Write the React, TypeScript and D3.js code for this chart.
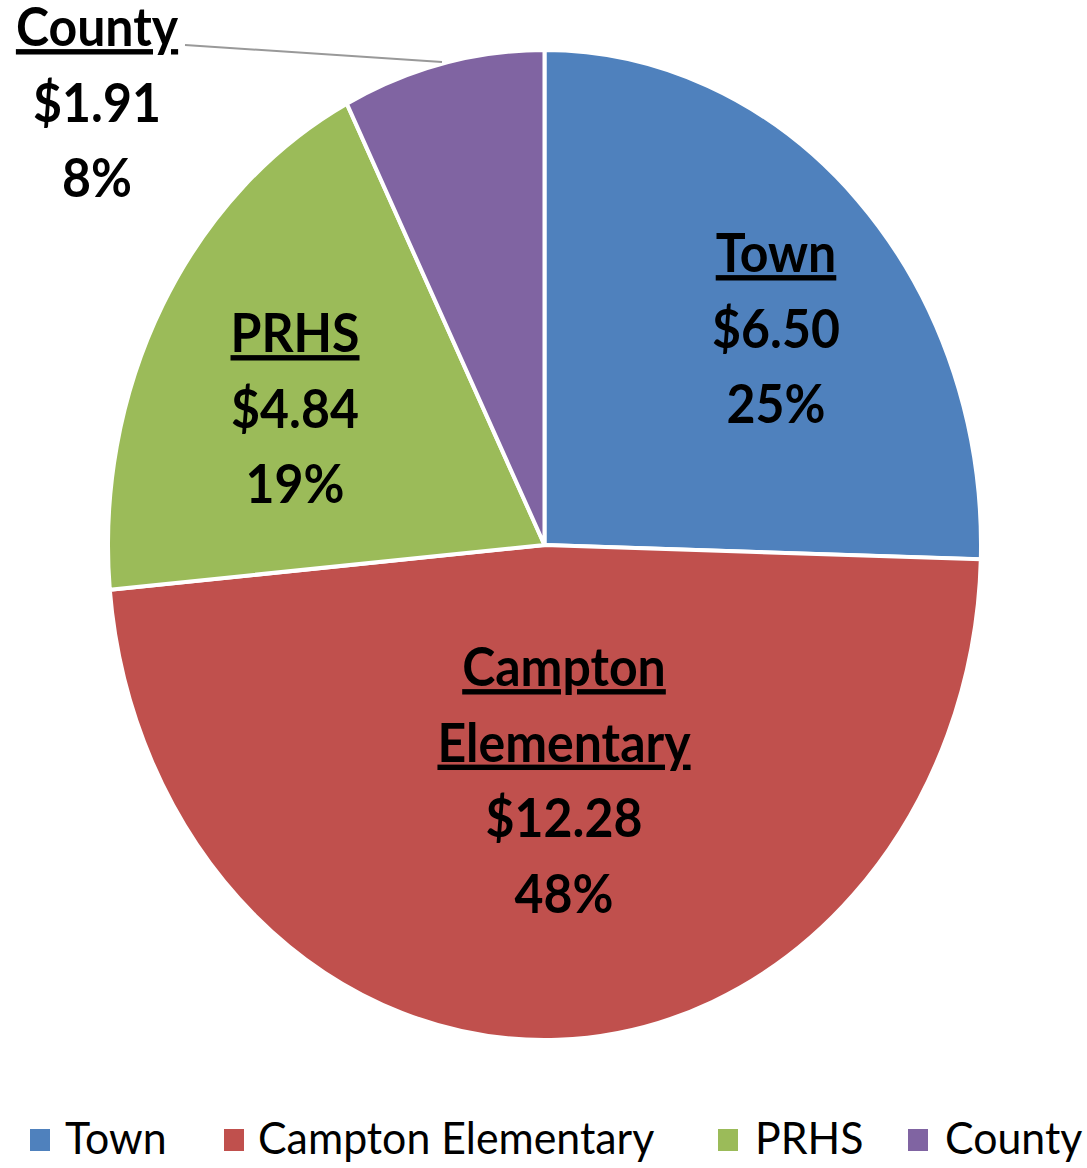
import React from "react";
import * as d3 from "d3";

const categories = ["Town", "Campton Elementary", "PRHS", "County"];
const values = [6.5, 12.28, 4.84, 1.91];
const percents = ["25%", "48%", "19%", "8%"];
const colors = ["#4F81BD", "#C0504D", "#9BBB59", "#8064A2"];
const labelNames = [["Town"], ["Campton", "Elementary"], ["PRHS"], ["County"]];

const W = 1087;
const H = 1168;
const cx = 544.5;
const cy = 545;
const R = 495;
const sxPie = 436.5 / 495;

const FONT = "Lato, 'Open Sans', sans-serif";

function STxt({ x, y, children, size, weight, underline, anchor = "middle", sx, sy }: any) {
  return (
    <text
      transform={`translate(${x},${y}) scale(${sx},${sy})`}
      textAnchor={anchor}
      fontFamily={FONT}
      fontSize={size}
      fontWeight={weight}
      fill="#000"
      style={{ textDecoration: underline ? "underline" : "none" }}
    >
      {children}
    </text>
  );
}

export default function App() {
  const pie = d3.pie<number>().sort(null).startAngle(0).endAngle(2 * Math.PI)(values);
  const arc = d3.arc<d3.PieArcDatum<number>>().innerRadius(0).outerRadius(R);

  // label anchor positions (center x, first baseline y)
  const labelPos = [
    { x: 776, y: 272 },
    { x: 564, y: 686 },
    { x: 295, y: 352 },
    { x: 97, y: 46 },
  ];
  const lineGap = 75.5;

  const legendItems = [
    { sq: 30, tx: 65 },
    { sq: 224, tx: 258 },
    { sq: 718, tx: 755 },
    { sq: 908, tx: 945 },
  ];

  return (
    <svg width={W} height={H} style={{ display: "block", position: "absolute", left: 0, top: 0 }} viewBox={`0 0 ${W} ${H}`}>
      <rect width={W} height={H} fill="#fff" />
      <g transform={`translate(${cx},${cy}) scale(${sxPie},1)`}>
        {pie.map((d, i) => (
          <path
            key={i}
            d={arc(d) as string}
            fill={colors[i]}
            stroke="#fff"
            strokeWidth={4}
            vectorEffect="non-scaling-stroke"
          />
        ))}
      </g>
      <line x1={185} y1={45} x2={442} y2={62} stroke="#999" strokeWidth={2} />
      {pie.map((d, i) => {
        const p = labelPos[i];
        const names = labelNames[i];
        const lines = [
          ...names.map((n) => ({ t: n, u: true })),
          { t: `$${values[i].toFixed(2)}`, u: false },
          { t: percents[i], u: false },
        ];
        return (
          <g key={i}>
            {lines.map((l, j) => (
              <STxt key={j} x={p.x} y={p.y + j * lineGap} size={50} sx={1.0} sy={1.08} weight={700} underline={l.u}>
                {l.t}
              </STxt>
            ))}
          </g>
        );
      })}
      {categories.map((c, i) => (
        <g key={c}>
          <rect x={legendItems[i].sq} y={1129} width={20} height={22} fill={colors[i]} />
          <STxt x={legendItems[i].tx} y={1154} size={42} sx={1.02} sy={1.08} weight={400} anchor="start">
            {c}
          </STxt>
        </g>
      ))}
    </svg>
  );
}
